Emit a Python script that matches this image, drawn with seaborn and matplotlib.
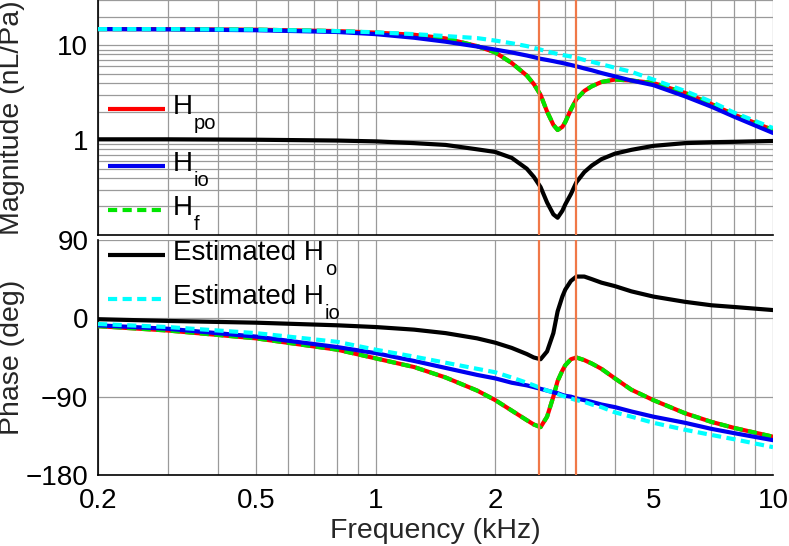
import numpy as np
import pandas as pd
import matplotlib
matplotlib.use('Agg')
import matplotlib.pyplot as plt
import seaborn as sns
from matplotlib.lines import Line2D
from matplotlib.ticker import NullFormatter

freq = [0.2, 0.3, 0.5, 0.8, 1.0, 1.25, 1.5, 1.8, 2.0, 2.2, 2.4, 2.5, 2.6, 2.7, 2.8, 2.87,
        2.95, 3.0, 3.1, 3.2, 3.35, 3.5, 3.7, 4.0, 4.4, 5.0, 6.0, 7.0, 8.0, 10.0]

# magnitude (nL/Pa)
hpo_mag = [14.8, 14.8, 14.6, 14.1, 13.6, 12.9, 11.8, 9.8, 8.4, 6.5, 4.8, 3.9, 3.0, 2.0, 1.45, 1.28,
           1.38, 1.55, 2.1, 2.7, 3.3, 3.7, 4.1, 4.35, 4.25, 4.0, 3.15, 2.4, 1.85, 1.28]
hio_mag = [14.8, 14.7, 14.4, 13.8, 13.1, 12.0, 10.9, 9.7, 9.0, 8.4, 7.8, 7.5, 7.2, 7.0, 6.8, 6.65,
           6.5, 6.4, 6.2, 6.0, 5.7, 5.45, 5.1, 4.7, 4.25, 3.8, 2.9, 2.25, 1.76, 1.19]
hf_mag = [14.8, 14.8, 14.6, 14.1, 13.6, 12.9, 11.8, 9.8, 8.4, 6.5, 4.8, 3.9, 3.0, 2.0, 1.45, 1.28,
          1.38, 1.55, 2.1, 2.7, 3.3, 3.7, 4.1, 4.35, 4.25, 4.0, 3.15, 2.4, 1.85, 1.28]
est_ho_mag = [1.02, 1.02, 1.01, 0.99, 0.97, 0.93, 0.89, 0.80, 0.75, 0.65, 0.50, 0.41, 0.32, 0.22, 0.165, 0.152,
              0.18, 0.21, 0.27, 0.36, 0.46, 0.54, 0.63, 0.72, 0.79, 0.87, 0.93, 0.95, 0.96, 0.98]
est_hio_mag = [14.8, 14.8, 14.6, 14.1, 13.7, 13.1, 12.5, 11.9, 11.2, 10.5, 9.8, 9.4, 9.0, 8.6, 8.3, 8.1,
               7.9, 7.8, 7.6, 7.4, 7.0, 6.7, 6.3, 5.8, 5.25, 4.35, 3.3, 2.54, 1.94, 1.34]

# phase (deg)
hpo_ph = [-9, -14, -23, -36, -46, -56, -68, -83, -94, -106, -117, -122, -125, -113, -90, -72,
          -60, -54, -47, -45, -48, -52, -58, -69, -82, -94, -109, -119, -126, -136]
hio_ph = [-8, -12, -21, -33, -40, -49, -57, -65, -69, -74, -77, -79, -81, -83, -85, -86,
          -88, -89, -90, -92, -94, -96, -99, -102, -107, -113, -120, -127, -132, -140]
hf_ph = [-9, -14, -23, -36, -46, -56, -68, -83, -94, -106, -117, -122, -125, -113, -90, -72,
         -60, -54, -47, -45, -48, -52, -58, -69, -82, -94, -109, -119, -126, -136]
est_ho_ph = [-1, -3, -5, -8, -10, -13, -17, -23, -28, -34, -41, -45, -47, -38, -17, 8,
             25, 33, 43, 48, 48, 45, 41, 37, 31, 25, 19, 15, 13, 9.5]
est_hio_ph = [-6.5, -10, -17, -27, -36, -44, -51, -58, -62, -68, -74, -77, -80, -83, -85, -87,
              -89, -90, -92, -94, -96, -99, -102, -108, -113, -120, -128, -134, -139, -148]

# resonance markers (kHz)
marker_freqs = [2.57, 3.2]

series_names = ['H_po', 'H_f', 'H_io', 'Est_Ho', 'Est_Hio']
legend_order = ['H_po', 'H_io', 'H_f', 'Est_Ho', 'Est_Hio']
legend_main = {'H_po': 'H', 'H_io': 'H', 'H_f': 'H',
               'Est_Ho': 'Estimated H', 'Est_Hio': 'Estimated H'}
legend_sub = {'H_po': 'po', 'H_io': 'io', 'H_f': 'f',
              'Est_Ho': 'o', 'Est_Hio': 'io'}
palette = {'H_po': '#FF0000', 'H_f': '#00E600', 'H_io': '#0000F0',
           'Est_Ho': '#000000', 'Est_Hio': '#00FFFF'}
dash_styles = {'H_po': '', 'H_f': (2.2, 1.3), 'H_io': '',
               'Est_Ho': '', 'Est_Hio': (2.2, 1.3)}

mag_values = {'H_po': hpo_mag, 'H_f': hf_mag, 'H_io': hio_mag,
              'Est_Ho': est_ho_mag, 'Est_Hio': est_hio_mag}
ph_values = {'H_po': hpo_ph, 'H_f': hf_ph, 'H_io': hio_ph,
             'Est_Ho': est_ho_ph, 'Est_Hio': est_hio_ph}


def long_table(values):
    rows = []
    for name in series_names:
        for f, v in zip(freq, values[name]):
            rows.append({'freq': f, 'value': v, 'series': name})
    return pd.DataFrame(rows)


df_mag = long_table(mag_values)
df_ph = long_table(ph_values)

sns.set_theme(style='white')
plt.rcParams['font.family'] = ['Liberation Sans', 'DejaVu Sans']
plt.rcParams['axes.unicode_minus'] = True

W, H = 789, 546
fig = plt.figure(figsize=(W / 100, H / 100), dpi=100)
ax_mag = fig.add_axes([98 / W, 1 - 235 / H, 675 / W, 235 / H])
ax_ph = fig.add_axes([98 / W, 1 - 475 / H, 675 / W, 235 / H])

for ax, df in [(ax_mag, df_mag), (ax_ph, df_ph)]:
    sns.lineplot(data=df, x='freq', y='value', hue='series', style='series',
                 hue_order=series_names, style_order=series_names,
                 palette=palette, dashes=dash_styles, linewidth=3,
                 errorbar=None, sort=False, legend=False, ax=ax, zorder=3)
    for mf in marker_freqs:
        ax.axvline(mf, color='#F07848', lw=1.6, zorder=4)
    ax.set_xscale('log')
    ax.set_xlim(0.2, 10)
    ax.grid(which='both', axis='x', color='#9a9a9a', lw=0.9)
    ax.set_xlabel('')
    for side in ['top', 'right']:
        ax.spines[side].set_visible(False)
    for side in ['left', 'bottom']:
        ax.spines[side].set_color('black')
        ax.spines[side].set_linewidth(1.2)
    ax.tick_params(which='both', length=0, labelsize=20, pad=7, colors='black')
    ax.xaxis.set_minor_formatter(NullFormatter())

# magnitude panel
ax_mag.set_yscale('log')
ax_mag.set_ylim(0.1, 30)
ax_mag.set_yticks([1, 10])
ax_mag.set_yticklabels(['1', '10'])
ax_mag.yaxis.set_minor_formatter(NullFormatter())
ax_mag.grid(which='both', axis='y', color='#9a9a9a', lw=0.9)
ax_mag.set_xticks([0.2, 0.5, 1, 2, 5, 10])
ax_mag.set_xticklabels([])
ax_mag.set_ylabel('Magnitude (nL/Pa)', fontsize=20.5)
ax_mag.yaxis.set_label_coords(-0.108, 0.5)

# phase panel
ax_ph.set_ylim(-180, 90)
ax_ph.set_yticks([-180, -90, 0, 90])
ax_ph.set_yticklabels(['\u2212180', '\u221290', '0', '90'])
ax_ph.grid(which='major', axis='y', color='#9a9a9a', lw=0.9)
ax_ph.set_xticks([0.2, 0.5, 1, 2, 5, 10])
ax_ph.set_xticklabels(['0.2', '0.5', '1', '2', '5', '10'])
ax_ph.tick_params(axis='x', pad=9)
ax_ph.set_xlabel('Frequency (kHz)', fontsize=20.5, labelpad=3)
ax_ph.set_ylabel('Phase (deg)', fontsize=20.5)
ax_ph.yaxis.set_label_coords(-0.108, 0.5)

# legend drawn by hand so the subscripts sit low like in the original
row_y = [109, 166, 210, 255, 299]
main_texts = []
for n, y in zip(legend_order, row_y):
    yf = 1 - y / H
    ln = Line2D([108 / W, 165 / W], [yf, yf], transform=fig.transFigure,
                color=palette[n], lw=3, solid_capstyle='butt')
    if dash_styles[n]:
        ln.set_dashes(dash_styles[n])
    fig.add_artist(ln)
    t = fig.text(173 / W, 1 - (y + 5) / H, legend_main[n], fontsize=20,
                 va='baseline', ha='left', color='black')
    main_texts.append(t)

fig.canvas.draw()
renderer = fig.canvas.get_renderer()
for n, y, t in zip(legend_order, row_y, main_texts):
    x1 = t.get_window_extent(renderer).x1
    fig.text((x1 + 1) / W, 1 - (y + 20) / H, legend_sub[n], fontsize=14.5,
             va='baseline', ha='left', color='black')

fig.savefig('out.png', dpi=100)
